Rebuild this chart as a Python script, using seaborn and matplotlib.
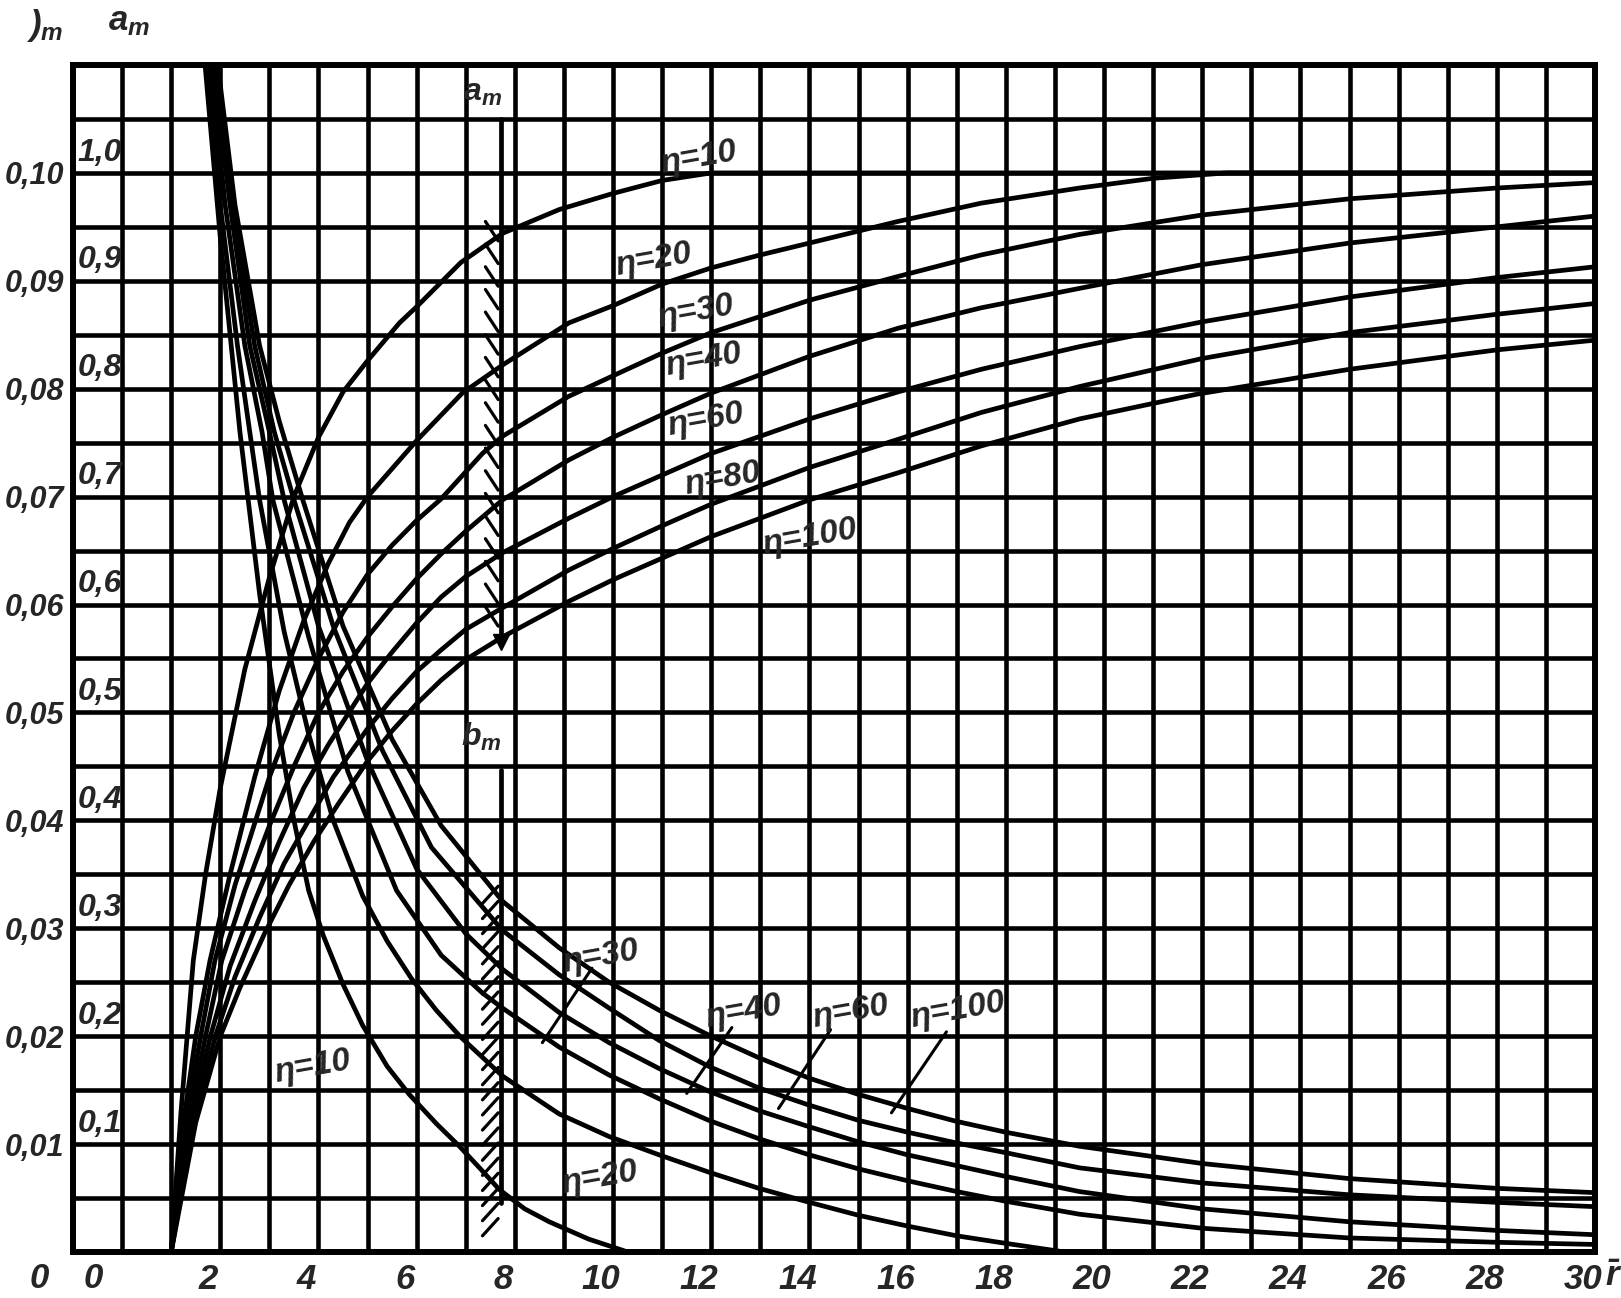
import numpy as np
import matplotlib
matplotlib.use("Agg")
import matplotlib.pyplot as plt
import matplotlib.transforms as mtransforms
import seaborn as sns

# ------------------------------------------------------------------ data
# a_m curves (inner scale 0 ... 1.1)
am_x_10 = [1.0, 1.2, 1.45, 1.7, 2.0, 2.5, 3.0, 3.5, 4.0, 4.5, 5.0, 5.65, 6.0, 6.9, 7.75, 8.9, 10.0, 11.0, 12.0, 14.0, 18.0, 22.0, 26.0, 30.0]
am_y_10 = [0.0, 0.13, 0.27, 0.35, 0.43, 0.54, 0.625, 0.70, 0.755, 0.797, 0.826, 0.861, 0.876, 0.917, 0.944, 0.966, 0.981, 0.993, 1.0, 1.0, 1.0, 1.0, 1.0, 1.0]
am_x_20 = [1.0, 1.25, 1.5, 1.79, 2.2, 2.7, 3.2, 3.7, 4.2, 4.63, 5.0, 6.0, 6.93, 7.75, 9.1, 10.0, 11.0, 12.0, 13.0, 14.0, 15.8, 17.5, 19.5, 21.0, 22.5, 26.0, 30.0]
am_y_20 = [0.0, 0.12, 0.2, 0.27, 0.35, 0.44, 0.52, 0.585, 0.638, 0.676, 0.70, 0.752, 0.796, 0.822, 0.861, 0.877, 0.897, 0.912, 0.924, 0.935, 0.955, 0.972, 0.986, 0.995, 1.0, 1.0, 1.0]
am_x_30 = [1.0, 1.3, 1.6, 1.89, 2.3, 3.0, 3.5, 4.0, 4.5, 5.0, 5.5, 6.0, 6.5, 7.34, 7.75, 9.1, 10.0, 11.0, 12.0, 14.0, 15.8, 17.5, 19.5, 22.0, 25.0, 28.0, 30.0]
am_y_30 = [0.0, 0.12, 0.2, 0.27, 0.34, 0.44, 0.50, 0.55, 0.593, 0.628, 0.655, 0.678, 0.698, 0.74, 0.756, 0.793, 0.812, 0.833, 0.852, 0.882, 0.904, 0.924, 0.943, 0.961, 0.976, 0.986, 0.991]
am_x_40 = [1.0, 1.35, 1.7, 2.03, 2.5, 3.0, 3.5, 4.0, 4.5, 5.0, 5.5, 6.0, 6.5, 7.0, 7.75, 9.1, 10.0, 11.0, 12.0, 14.0, 15.8, 17.5, 19.5, 22.0, 25.0, 28.0, 30.0]
am_y_40 = [0.0, 0.12, 0.2, 0.27, 0.335, 0.395, 0.45, 0.50, 0.538, 0.57, 0.598, 0.624, 0.647, 0.668, 0.697, 0.734, 0.755, 0.776, 0.796, 0.83, 0.856, 0.875, 0.893, 0.915, 0.935, 0.95, 0.96]
am_x_60 = [1.0, 1.4, 1.8, 2.2, 2.7, 3.2, 3.7, 4.2, 5.0, 5.5, 6.0, 6.5, 7.0, 7.75, 9.1, 10.0, 11.0, 12.0, 14.0, 15.8, 17.5, 19.5, 22.0, 25.0, 28.0, 30.0]
am_y_60 = [0.0, 0.12, 0.2, 0.265, 0.325, 0.38, 0.43, 0.47, 0.527, 0.556, 0.583, 0.607, 0.626, 0.648, 0.68, 0.70, 0.72, 0.74, 0.772, 0.797, 0.818, 0.839, 0.862, 0.885, 0.903, 0.913]
am_x_80 = [1.0, 1.45, 1.9, 2.3, 2.8, 3.3, 3.8, 4.3, 5.0, 5.5, 6.0, 6.5, 7.0, 7.75, 9.1, 10.0, 11.0, 12.0, 14.0, 15.8, 17.5, 19.5, 22.0, 25.0, 28.0, 30.0]
am_y_80 = [0.0, 0.12, 0.2, 0.255, 0.31, 0.36, 0.40, 0.44, 0.485, 0.513, 0.538, 0.558, 0.577, 0.597, 0.632, 0.652, 0.673, 0.693, 0.727, 0.753, 0.778, 0.802, 0.828, 0.852, 0.869, 0.879]
am_x_100 = [1.0, 1.5, 2.0, 2.4, 2.9, 3.4, 3.9, 4.4, 5.0, 5.5, 6.0, 6.5, 7.0, 7.75, 9.1, 10.0, 11.0, 12.0, 14.0, 15.8, 17.5, 19.5, 21.9, 25.0, 28.0, 30.0]
am_y_100 = [0.0, 0.12, 0.2, 0.245, 0.295, 0.34, 0.38, 0.415, 0.455, 0.483, 0.508, 0.53, 0.549, 0.57, 0.603, 0.623, 0.643, 0.663, 0.697, 0.722, 0.747, 0.772, 0.795, 0.818, 0.836, 0.845]

# b_m curves (outer scale 0 ... 0.11)
bm_x_10 = [1.69, 2.0, 2.4, 2.8, 3.2, 3.5, 3.8, 4.1, 4.5, 4.9, 5.4, 5.85, 6.4, 6.87, 7.3, 7.68, 8.2, 8.7, 9.5, 10.3]
bm_y_10 = [0.11, 0.094, 0.076, 0.061, 0.048, 0.040, 0.0335, 0.0293, 0.0248, 0.021, 0.0172, 0.0146, 0.0119, 0.0098, 0.0077, 0.0058, 0.004, 0.0028, 0.0012, 0.0]
bm_x_20 = [1.75, 2.0, 2.35, 2.6, 2.8, 3.3, 3.8, 4.3, 4.9, 5.4, 5.9, 6.4, 6.9, 7.75, 8.9, 9.92, 10.94, 11.95, 12.97, 14.0, 15.0, 16.0, 17.0, 18.0, 19.2]
bm_y_20 = [0.11, 0.097, 0.084, 0.076, 0.0697, 0.0575, 0.048, 0.040, 0.033, 0.0288, 0.0253, 0.0224, 0.0199, 0.0163, 0.0128, 0.0107, 0.009, 0.0074, 0.0059, 0.0046, 0.0034, 0.0024, 0.0015, 0.0008, 0.0]
bm_x_30 = [1.8, 2.1, 2.5, 2.85, 3.07, 3.8, 4.6, 5.59, 6.5, 7.34, 7.75, 8.9, 9.92, 10.94, 11.95, 12.97, 14.0, 15.0, 16.0, 17.0, 18.0, 19.5, 22.0, 25.0, 28.0, 30.0]
bm_y_30 = [0.11, 0.097, 0.084, 0.076, 0.0697, 0.057, 0.0445, 0.0335, 0.0275, 0.024, 0.0226, 0.019, 0.0164, 0.0142, 0.0122, 0.0105, 0.009, 0.0077, 0.0066, 0.0056, 0.0047, 0.0035, 0.0022, 0.0013, 0.0009, 0.0007]
bm_x_40 = [1.85, 2.2, 2.6, 3.0, 3.3, 4.0, 5.0, 6.0, 7.0, 7.75, 8.9, 9.92, 10.94, 11.95, 12.97, 14.0, 15.0, 16.0, 17.0, 18.0, 19.5, 22.0, 25.0, 28.0, 30.0]
bm_y_40 = [0.11, 0.097, 0.084, 0.076, 0.0697, 0.058, 0.0455, 0.0355, 0.0295, 0.0262, 0.0222, 0.0194, 0.017, 0.0149, 0.0131, 0.0116, 0.0102, 0.009, 0.008, 0.007, 0.0056, 0.004, 0.0028, 0.002, 0.0016]
bm_x_60 = [1.9, 2.25, 2.7, 3.1, 3.5, 4.3, 5.3, 6.3, 7.75, 8.9, 9.92, 10.94, 11.95, 12.97, 14.0, 15.0, 16.0, 17.0, 18.0, 19.5, 22.0, 25.0, 28.0, 30.0]
bm_y_60 = [0.11, 0.097, 0.084, 0.076, 0.0697, 0.058, 0.0465, 0.0375, 0.0298, 0.0257, 0.0226, 0.0196, 0.0172, 0.0152, 0.0136, 0.0122, 0.0111, 0.0101, 0.0092, 0.0078, 0.0064, 0.0053, 0.0046, 0.0042]
bm_x_100 = [1.95, 2.3, 2.8, 3.2, 3.68, 4.5, 5.5, 6.5, 7.75, 8.9, 9.92, 10.94, 11.95, 12.97, 14.0, 15.0, 16.0, 17.0, 18.0, 19.5, 22.0, 25.0, 28.0, 30.0]
bm_y_100 = [0.11, 0.097, 0.084, 0.077, 0.0697, 0.058, 0.0475, 0.0395, 0.0325, 0.0282, 0.025, 0.0224, 0.0201, 0.018, 0.0161, 0.0146, 0.0133, 0.0121, 0.0111, 0.0098, 0.0082, 0.0068, 0.0059, 0.0055]

# axis tick values / labels
x_tick_values = [2, 4, 6, 8, 10, 12, 14, 16, 18, 20, 22, 24, 26, 28, 30]
x_tick_labels = ["2", "4", "6", "8", "10", "12", "14", "16", "18", "20", "22", "24", "26", "28", "30"]
b_tick_values = [0.01, 0.02, 0.03, 0.04, 0.05, 0.06, 0.07, 0.08, 0.09, 0.10]
b_tick_labels = ["0,01", "0,02", "0,03", "0,04", "0,05", "0,06", "0,07", "0,08", "0,09", "0,10"]
a_tick_values = [0.1, 0.2, 0.3, 0.4, 0.5, 0.6, 0.7, 0.8, 0.9, 1.0]
a_tick_labels = ["0,1", "0,2", "0,3", "0,4", "0,5", "0,6", "0,7", "0,8", "0,9", "1,0"]

# curve labels
am_label_text = ["η=10", "η=20", "η=30", "η=40", "η=60", "η=80", "η=100"]
am_label_x = [11.75, 10.83, 11.69, 11.85, 11.89, 12.24, 14.0]
am_label_y = [1.014, 0.919, 0.871, 0.827, 0.771, 0.716, 0.662]
bm_label_text = ["η=10", "η=20", "η=30", "η=40", "η=60", "η=100"]
bm_label_x = [3.88, 9.72, 9.74, 12.66, 14.84, 17.03]
bm_label_y = [0.0171, 0.0069, 0.0273, 0.0222, 0.0222, 0.0224]
# leader lines (label -> curve) for lower labels
leader_x0 = [9.57, 12.42, 14.43, 16.79]
leader_y0 = [0.0263, 0.0208, 0.0206, 0.0204]
leader_x1 = [8.56, 11.50, 13.37, 15.67]
leader_y1 = [0.0194, 0.0147, 0.0133, 0.0129]

# r-bar position markers for a_m and b_m
am_mark_x, am_mark_top, am_mark_bottom = 7.72, 1.05, 0.565
am_hatch_top, am_hatch_bottom = 0.95, 0.58
bm_mark_x, bm_mark_top, bm_mark_bottom = 7.72, 0.0447, 0.0045
bm_hatch_top, bm_hatch_bottom = 0.0335, 0.0015

# ------------------------------------------------------------------ style
sns.set_style("white")
FONT = ['DejaVu Sans Condensed', 'Liberation Sans Narrow', 'Liberation Sans', 'DejaVu Sans']
plt.rcParams['font.family'] = FONT
plt.rcParams['font.style'] = 'italic'
plt.rcParams['font.weight'] = 'bold'
plt.rcParams['mathtext.fontset'] = 'custom'
plt.rcParams['mathtext.it'] = 'Liberation Sans:italic:bold'
plt.rcParams['mathtext.rm'] = 'Liberation Sans:italic:bold'

W, H = 1621, 1298
fig = plt.figure(figsize=(W / 100, H / 100), dpi=100)
L, R, T, B = 73, 1595, 65, 1252
ax = fig.add_axes([L / W, (H - B) / H, (R - L) / W, (B - T) / H])
ax.set_xlim(-1, 30)
ax.set_ylim(0, 0.11)

GRID_LW = 3.3
CURVE_LW = 3.4
ax.set_xticks(np.arange(-1, 31, 1), minor=True)
ax.set_yticks(np.arange(0, 0.1101, 0.005), minor=True)
ax.set_xticks(x_tick_values)
ax.set_xticklabels(x_tick_labels)
ax.set_yticks(b_tick_values)
ax.set_yticklabels(b_tick_labels)
ax.grid(True, which='both', color='black', lw=GRID_LW)
ax.set_axisbelow(True)
ax.tick_params(which='both', length=0)
ax.tick_params(axis='x', labelsize=25, pad=8)
ax.tick_params(axis='y', labelsize=22, pad=6)
for s in ax.spines.values():
    s.set_visible(True)
    s.set_color('black')
    s.set_linewidth(4.3)
shift = mtransforms.ScaledTranslation(-0.12, 0, fig.dpi_scale_trans)
for lab in ax.get_xticklabels():
    lab.set_transform(lab.get_transform() + shift)

# extra zero labels for the two vertical scales
for xz in (-1.69, -0.59):
    ax.text(xz, -0.0085, "0", transform=mtransforms.blended_transform_factory(ax.transData, ax.transAxes),
            ha='center', va='top', fontsize=25)

# inner (a_m) scale labels
for v, t in zip(a_tick_values, a_tick_labels):
    ax.text(-0.9, v / 10 + 0.0005, t, ha='left', va='bottom', fontsize=23)

ax2 = ax.twinx()
ax2.set_ylim(0, 1.1)
ax2.set_yticks([])
for s in ax2.spines.values():
    s.set_visible(False)

# b_m curves
bm_curves = [(bm_x_10, bm_y_10), (bm_x_20, bm_y_20), (bm_x_30, bm_y_30),
             (bm_x_40, bm_y_40), (bm_x_60, bm_y_60), (bm_x_100, bm_y_100)]
for xs, ys in bm_curves:
    sns.lineplot(x=xs, y=ys, ax=ax, color='black', lw=CURVE_LW, sort=False, estimator=None)

# a_m curves
am_curves = [(am_x_10, am_y_10), (am_x_20, am_y_20), (am_x_30, am_y_30), (am_x_40, am_y_40),
             (am_x_60, am_y_60), (am_x_80, am_y_80), (am_x_100, am_y_100)]
for xs, ys in am_curves:
    sns.lineplot(x=xs, y=ys, ax=ax2, color='black', lw=CURVE_LW, sort=False, estimator=None)
ax2.set_xlim(-1, 30)
ax2.set_ylim(0, 1.1)
ax.set_ylim(0, 0.11)
ax.set_xlabel("")
ax.set_ylabel("")
ax2.set_ylabel("")

# a_m marker with hatching and arrow
ax2.plot([am_mark_x, am_mark_x], [am_mark_bottom, am_mark_top], color='black', lw=3.4)
ax2.plot([am_mark_x], [am_mark_bottom], marker='v', color='black', markersize=11)
for yy in np.arange(am_hatch_bottom, am_hatch_top, 0.021):
    ax2.plot([am_mark_x - 0.32, am_mark_x - 0.06], [yy + 0.018, yy], color='black', lw=2.3)
ax2.text(am_mark_x - 0.38, 1.074, "a$_m$", ha='center', va='center', fontsize=23)

# b_m marker with hatching
ax.plot([bm_mark_x, bm_mark_x], [bm_mark_bottom, bm_mark_top], color='black', lw=3.4)
for yy in np.arange(bm_hatch_bottom, bm_hatch_top, 0.0014):
    ax.plot([bm_mark_x - 0.38, bm_mark_x - 0.06], [yy, yy + 0.0016], color='black', lw=2.3)
ax.text(bm_mark_x - 0.4, 0.0477, "b$_m$", ha='center', va='center', fontsize=23)

# curve labels
for t, x, y in zip(am_label_text, am_label_x, am_label_y):
    ax2.text(x, y, t, ha='center', va='center', fontsize=24, rotation=10, rotation_mode='anchor')
for t, x, y in zip(bm_label_text, bm_label_x, bm_label_y):
    ax.text(x, y, t, ha='center', va='center', fontsize=24, rotation=10, rotation_mode='anchor')
for x0, y0, x1, y1 in zip(leader_x0, leader_y0, leader_x1, leader_y1):
    ax.plot([x0, x1], [y0, y1], color='black', lw=2.2)

# header labels and axis symbol
fig.text(45 / W, 1 - 25 / H, "$)_m$", ha='center', va='center', fontsize=25)
fig.text(129 / W, 1 - 22 / H, "a$_m$", ha='center', va='center', fontsize=25)
fig.text(1614 / W, 1 - 1276 / H, r"$\bar{r}$", ha='center', va='center', fontsize=25)

fig.savefig("out.png", dpi=100, facecolor='white')
